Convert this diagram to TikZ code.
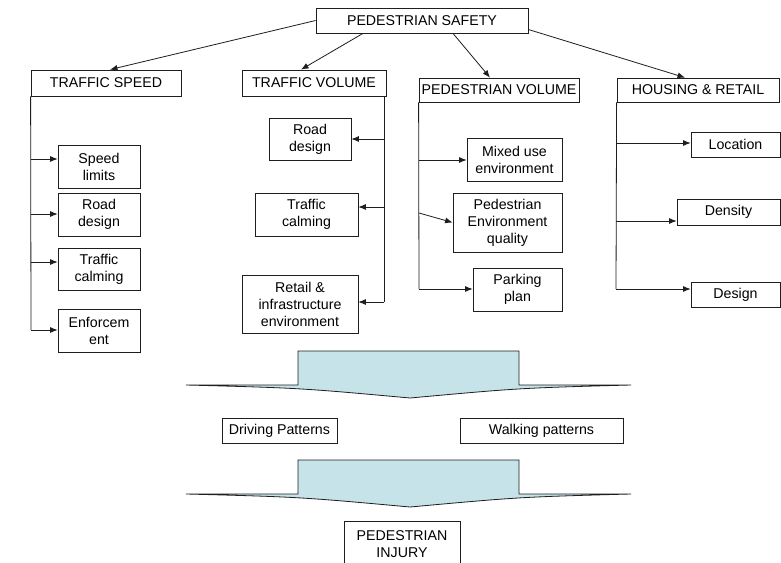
\documentclass[tikz,border=0pt]{standalone}
\usepackage{fontspec}
\setmainfont{Liberation Sans}
\usetikzlibrary{arrows.meta}
\definecolor{arrowfill}{RGB}{197,227,232}
\definecolor{linec}{RGB}{30,30,30}
\begin{document}
\begin{tikzpicture}[x=1pt,y=-1pt,
  box/.style={draw=linec, line width=0.8pt, inner sep=0pt, align=center,
    font=\fontsize{14.2}{17}\selectfont, fill=white},
  arr/.style={draw=linec, line width=0.8pt, -{Latex[length=7.5pt,width=6pt]}},
  ln/.style={draw=linec, line width=0.8pt},
  bigarrow/.style={draw=linec, line width=0.8pt, fill=arrowfill, line join=miter}]
\useasboundingbox[fill=white] (0,0) rectangle (781,562);

% big arrows
\draw[bigarrow] (186,385) -- (298,385) -- (298,351) -- (519,351) -- (519,385) -- (631,385)
  .. controls (520,388) .. (410,398) .. controls (300,388) .. (186,385) -- cycle;
\draw[bigarrow] (186,494) -- (298,494) -- (298,460) -- (519,460) -- (519,494) -- (631,494)
  .. controls (520,497) .. (410,507) .. controls (300,497) .. (186,494) -- cycle;

% top level
\node[box, minimum width=212pt, minimum height=25pt] (ps) at (422,20.5) {PEDESTRIAN SAFETY};
\node[box, minimum width=150pt, minimum height=26pt] (ts) at (106,83) {TRAFFIC SPEED};
\node[box, minimum width=144pt, minimum height=26pt] (tv) at (314,83) {TRAFFIC VOLUME};
\node[box, minimum width=160pt, minimum height=24pt] (pv) at (499,90) {PEDESTRIAN VOLUME};
\node[box, minimum width=162pt, minimum height=24pt] (hr) at (698,90) {HOUSING \& RETAIL};

\draw[arr] (ps.west) -- ([xshift=4pt]ts.north);
\draw[arr] ([xshift=-59pt]ps.south) -- ([xshift=-13pt]tv.north);
\draw[arr] ([xshift=31pt]ps.south) -- ([xshift=-9pt]pv.north);
\draw[arr] ([yshift=-9pt]ps.east) -- ([xshift=-13pt]hr.north);

% traffic speed column
\node[box, minimum width=82pt, minimum height=43pt] (sl) at (99,166.5) {Speed\\limits};
\node[box, minimum width=82pt, minimum height=43pt] (rd1) at (99,214.5) {Road\\design};
\node[box, minimum width=82pt, minimum height=42pt] (tc1) at (99,269) {Traffic\\calming};
\node[box, minimum width=82pt, minimum height=43pt] (en) at (99,330.5) {Enforcem\\ent};
\coordinate (a0) at (31,330);
\draw[ln] (ts.south west) -- (a0);
\coordinate (a1) at (31,159);
\coordinate (a2) at (31,214);
\coordinate (a3) at (31,262);
\draw[arr] (a1) -- (a1 -| sl.west);
\draw[arr] (a2) -- (a2 -| rd1.west);
\draw[arr] (a3) -- (a3 -| tc1.west);
\draw[arr] (a0) -- (a0 -| en.west);

% traffic volume column
\node[box, minimum width=82pt, minimum height=42pt] (rd2) at (310,139) {Road\\design};
\node[box, minimum width=103pt, minimum height=43pt] (tc2) at (306.5,214.5) {Traffic\\calming};
\node[box, minimum width=116pt, minimum height=58pt] (ri) at (300,304) {Retail \&\\infrastructure\\environment};
\coordinate (v0) at (384,96);
\coordinate (v1) at (384,139);
\coordinate (v2) at (384,207);
\coordinate (v3) at (384,302);
\draw[ln] (v0) -- (v3);
\draw[arr] (v1) -- (v1 -| rd2.east);
\draw[arr] (v2) -- (v2 -| tc2.east);
\draw[arr] (v3) -- (v3 -| ri.east);

% pedestrian volume column
\node[box, minimum width=95pt, minimum height=43pt] (mu) at (514.5,159.5) {Mixed use\\environment};
\node[box, minimum width=109pt, minimum height=59pt] (pe) at (507.5,222.5) {Pedestrian\\Environment\\quality};
\node[box, minimum width=89pt, minimum height=43pt] (pp) at (517.5,289.5) {Parking\\plan};
\coordinate (p1) at (419,160);
\coordinate (p2) at (419,213);
\coordinate (p3) at (419,289);
\draw[ln] (pv.south west) -- (p3);
\draw[arr] (p1) -- (p1 -| mu.west);
\draw[arr] (p2) -- (pe.west);
\draw[arr] (p3) -- (p3 -| pp.west);

% housing & retail column
\node[box, minimum width=89pt, minimum height=25pt] (lo) at (735.5,144.5) {Location};
\node[box, minimum width=103pt, minimum height=26pt] (de) at (728.5,212) {Density};
\node[box, minimum width=89pt, minimum height=25pt] (ds) at (735.5,294.5) {Design};
\coordinate (h1) at (616,143);
\coordinate (h2) at (616,221);
\coordinate (h3) at (616,289);
\draw[ln] (hr.south west) -- (h3);
\draw[arr] (h1) -- (h1 -| lo.west);
\draw[arr] (h2) -- (h2 -| de.west);
\draw[arr] (h3) -- (h3 -| ds.west);

% lower part
\node[box, minimum width=115pt, minimum height=25pt] (dp) at (279.5,430.5) {Driving Patterns};
\node[box, minimum width=163pt, minimum height=25pt] (wp) at (541.5,430.5) {Walking patterns};
\node[box, minimum width=116pt, minimum height=46pt] (pi) at (402,544) {PEDESTRIAN\\INJURY};
\end{tikzpicture}
\end{document}
